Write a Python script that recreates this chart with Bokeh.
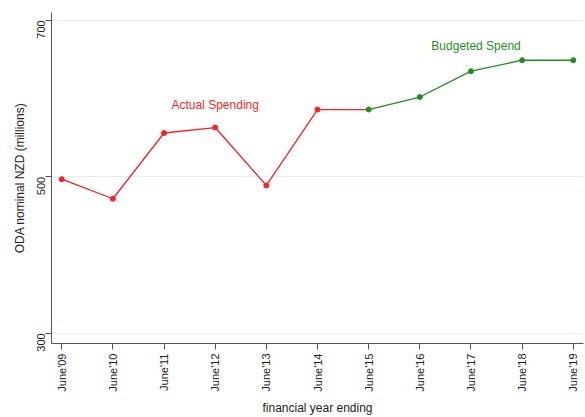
import math
from bokeh.plotting import figure
from bokeh.models import FixedTicker, Range1d, Label
from bokeh.embed import file_html
from bokeh.resources import INLINE

years = ["June'09", "June'10", "June'11", "June'12", "June'13", "June'14",
         "June'15", "June'16", "June'17", "June'18", "June'19"]
actual_idx = [0, 1, 2, 3, 4, 5]
actual_vals = [497, 472, 556, 563, 489, 586]
budget_idx = [6, 7, 8, 9, 10]
budget_vals = [586, 602, 635, 649, 649]
y_ticks = [300, 500, 700]

RED = "#ff1f1f"
GREEN = "#1f8f1f"
FONT = "Liberation Sans"

p = figure(width=585, height=417, output_backend="svg", toolbar_location=None,
           x_range=Range1d(-0.2, 10.2), y_range=Range1d(287, 710),
           min_border_left=51, min_border_right=2, min_border_top=12, min_border_bottom=74)
p.outline_line_color = None

# red line continues to first budget point
p.line(actual_idx + [budget_idx[0]], actual_vals + [budget_vals[0]], line_color=RED, line_width=1.3)
p.scatter(actual_idx, actual_vals, size=5, color=RED)
p.line(budget_idx, budget_vals, line_color=GREEN, line_width=1.3)
p.scatter(budget_idx, budget_vals, size=5, color=GREEN)

p.add_layout(Label(x=3, y=592, text="Actual Spending", text_align="center", text_baseline="middle",
                   text_color=RED, text_font=FONT, text_font_size="12px"))
p.add_layout(Label(x=8.1, y=667, text="Budgeted Spend", text_align="center", text_baseline="middle",
                   text_color=GREEN, text_font=FONT, text_font_size="12px"))

p.xaxis.ticker = FixedTicker(ticks=list(range(len(years))))
p.xaxis.major_label_overrides = {i: y for i, y in enumerate(years)}
p.xaxis.major_label_orientation = math.pi / 2
p.yaxis.ticker = FixedTicker(ticks=y_ticks)
p.yaxis.major_label_orientation = math.pi / 2

for ax in (p.xaxis[0], p.yaxis[0]):
    ax.axis_line_color = "#555555"
    ax.major_tick_line_color = "#555555"
    ax.major_tick_out = 6
    ax.major_tick_in = 0
    ax.minor_tick_line_color = None
    ax.major_label_text_font = FONT
    ax.major_label_text_font_size = "11px"
    ax.major_label_text_color = "#222222"
    ax.major_label_standoff = 4
    ax.axis_label_text_font = FONT
    ax.axis_label_text_font_size = "12px"
    ax.axis_label_text_font_style = "normal"
    ax.axis_label_text_color = "#222222"

p.xaxis.axis_label = "financial year ending"
p.yaxis.axis_label = "ODA nominal NZD (millions)"
p.xaxis.axis_label_standoff = 6
p.yaxis.axis_label_standoff = 4

p.xgrid.grid_line_color = None
p.ygrid.grid_line_color = "#e6eff1"
p.ygrid.grid_line_width = 1

open("out.html", "w").write(file_html(p, INLINE))
